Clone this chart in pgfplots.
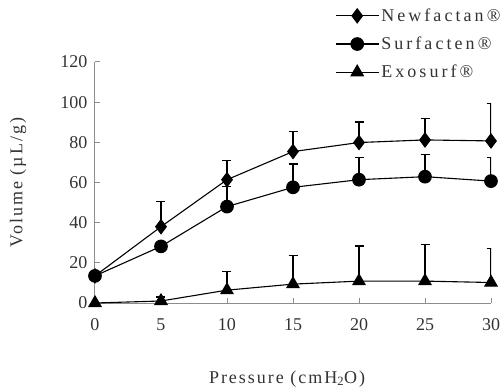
\documentclass[border=0pt]{standalone}
\usepackage{fontspec}
\setmainfont{Liberation Serif}
\newfontfamily\spaced[LetterSpace=11]{Liberation Serif}
\newfontfamily\spacedleg[LetterSpace=17]{Liberation Serif}
\usepackage{pgfplots}
\usepackage{pgfplotstable}
\pgfplotsset{compat=1.18}
\pgfplotstableread{
x y ey
0 13.5 0
5 38.0 12.5
10 61.4 9.4
15 75.4 9.9
20 79.9 10.2
25 81.2 10.5
30 80.7 18.5
}\newfactan
\pgfplotstableread{
x y ey
0 13.5 0
5 28.2 2
10 48.0 10
15 57.6 11.6
20 61.4 11.0
25 62.9 10.9
30 60.7 11.7
}\surfacten
\pgfplotstableread{
x y ey
0 0 0
5 1.0 2
10 6.4 9.4
15 9.4 14.2
20 10.9 17.5
25 10.9 18.3
30 10.2 17.0
}\exosurf
\begin{document}
\begin{tikzpicture}
\begin{axis}[
  at={(0,0)}, anchor=origin,
  scale only axis, width=396pt, height=241pt,
  xmin=0, xmax=30, ymin=0, ymax=120,
  axis lines*=left,
  axis line style={draw=black!45, line width=1pt},
  tick style={draw=black!45, line width=1pt},
  tick align=inside,
  major tick length=5pt,
  xtick={0,5,...,30}, ytick={0,20,...,120},
  font=\fontsize{18}{21}\selectfont,
  /pgf/number format/assume math mode=true,
  ticklabel style={text=black!80},
  xticklabel style={anchor=north, yshift=-12pt},
  yticklabel style={anchor=east, xshift=-4pt},
  xlabel={\spaced Pressure (cmH\textsubscript{2}O)},
  ylabel={\spaced Volume (µL/g)},
  xlabel style={at={(axis description cs:0.485,-0.315)}, anchor=center, text=black!80},
  ylabel style={at={(axis description cs:-0.194,0.5)}, anchor=center, text=black!80},
  legend cell align=left,
  legend style={draw=none, fill=none, font=\spacedleg\fontsize{18}{21}\selectfont, text=black!80,
    at={(rel axis cs:0.606,1.23)}, anchor=north west, inner sep=0pt, row sep=10pt,
    nodes={inner sep=2pt}},
  legend image code/.code={\draw[mark repeat=2,mark phase=2,#1] plot coordinates {(0pt,0pt) (21.5pt,0pt) (43pt,0pt)};},
  every axis plot/.append style={black, line width=1.1pt},
  error bars/y dir=plus, error bars/y explicit,
  error bars/error bar style={line width=1.1pt, black},
  error bars/error mark options={rotate=90, mark size=4.5pt, line width=1.1pt, black},
]
\addplot[mark=diamond*, mark size=7pt, mark options={solid}] table[x=x, y=y, y error=ey] {\newfactan};
\addlegendentry{Newfactan®}
\addplot[mark=*, mark size=6.3pt] table[x=x, y=y, y error=ey] {\surfacten};
\addlegendentry{Surfacten®}
\addplot[mark=triangle*, mark size=7pt] table[x=x, y=y, y error=ey] {\exosurf};
\addlegendentry{Exosurf®}
\end{axis}
\pgfresetboundingbox
\path (-95pt,-88pt) rectangle (408pt,303pt);
\end{tikzpicture}
\end{document}
